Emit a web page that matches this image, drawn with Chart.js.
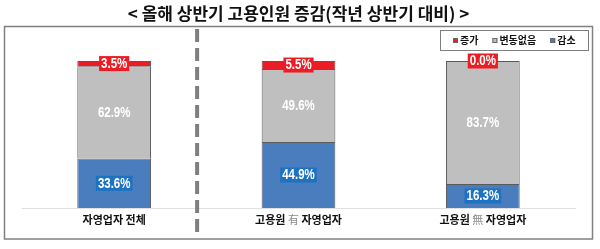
<!DOCTYPE html>
<html>
<head>
<meta charset="utf-8">
<script src="https://cdn.jsdelivr.net/npm/chart.js@4.4.1/dist/chart.umd.min.js"></script>
<style>
    html, body { margin: 0; padding: 0; background: #fff; }
</style>
</head>
<body>
<canvas id="chart" width="600" height="249"></canvas>
<script>
// data
const categories = ['자영업자 전체', '고용원 有 자영업자', '고용원 無 자영업자'];
const decrease = [33.6, 44.9, 16.3];
const noChange = [62.9, 49.6, 83.7];
const increase = [3.5, 5.5, 0.0];
const seriesNames = ['감소', '변동없음', '증가'];
const titleText = '< 올해 상반기 고용인원 증감(작년 상반기 대비) >';

const KR = '"Noto Sans CJK KR", "Noto Sans", sans-serif';
const NUM = '"Liberation Sans", Arial, sans-serif';

const RED = '#ec1c24';
const GRAY = '#bfbfbf';
const BLUE = '#4a7dbd';
const BLUE_TAG = '#1d72c2';

// outer frame
const framePlugin = {
    id: 'frame',
    beforeDraw(chart) {
        const ctx = chart.ctx;
        ctx.save();
        ctx.fillStyle = '#fff';
        ctx.fillRect(0, 0, chart.width, chart.height);
        ctx.strokeStyle = '#808080';
        ctx.lineWidth = 1.5;
        ctx.strokeRect(4.5, 26.5, 588, 212.5);
        ctx.restore();
    }
};

// dashed divider between first group and the rest
const dividerPlugin = {
    id: 'divider',
    beforeDatasetsDraw(chart) {
        const ctx = chart.ctx;
        const x = chart.scales.x.getPixelForValue(0.45);
        ctx.save();
        ctx.strokeStyle = '#7f7f7f';
        ctx.lineWidth = 4;
        ctx.setLineDash([13, 6]);
        ctx.beginPath();
        ctx.moveTo(x, 29);
        ctx.lineTo(x, 238);
        ctx.stroke();
        ctx.restore();
    }
};

// value labels on each segment (narrowed text)
const valueLabelPlugin = {
    id: 'valueLabels',
    afterDatasetsDraw(chart) {
        const ctx = chart.ctx;
        const squeeze = 0.82;
        ctx.save();
        ctx.font = 'bold 14px ' + NUM;
        ctx.textAlign = 'center';
        ctx.textBaseline = 'middle';
        chart.data.datasets.forEach((ds, i) => {
            const meta = chart.getDatasetMeta(i);
            meta.data.forEach((bar, j) => {
                const text = ds.data[j].toFixed(1) + '%';
                const cy = (bar.y + bar.base) / 2;
                const w = ctx.measureText(text).width * squeeze + 4;
                if (ds.tag) {
                    ctx.fillStyle = ds.tag;
                    ctx.fillRect(bar.x - w / 2, cy - 7.5, w, 15);
                }
                ctx.save();
                ctx.translate(bar.x, cy + 0.5);
                ctx.scale(squeeze, 1);
                ctx.fillStyle = '#fff';
                ctx.fillText(text, 0, 0);
                ctx.restore();
            });
        });
        ctx.restore();
    }
};

// category labels, with the 有/無 mark in light gray
const tickLabelPlugin = {
    id: 'tickLabels',
    afterDraw(chart) {
        const ctx = chart.ctx;
        const sx = chart.scales.x;
        const y = sx.top + 5 + 6.6;
        const boldFont = 'bold 11px ' + KR;
        const lightFont = '11px ' + KR;
        ctx.save();
        ctx.textBaseline = 'middle';
        ctx.textAlign = 'left';
        categories.forEach((label, i) => {
            const parts = label.split(/([有無])/).filter(p => p.length);
            let total = 0;
            parts.forEach(p => {
                ctx.font = /[有無]/.test(p) ? lightFont : boldFont;
                total += ctx.measureText(p).width;
            });
            let x = sx.getPixelForValue(i) - total / 2;
            parts.forEach(p => {
                const light = /[有無]/.test(p);
                ctx.font = light ? lightFont : boldFont;
                ctx.fillStyle = light ? '#8a8a8a' : '#111';
                ctx.fillText(p, x, y);
                x += ctx.measureText(p).width;
            });
        });
        ctx.restore();
    }
};

// boxed legend in the top right corner
const legendBoxPlugin = {
    id: 'legendBox',
    afterDraw(chart) {
        const ctx = chart.ctx;
        ctx.save();
        ctx.fillStyle = '#fff';
        ctx.fillRect(440, 30, 148, 20);
        ctx.strokeStyle = '#7f7f7f';
        ctx.lineWidth = 1;
        ctx.strokeRect(440.5, 30.5, 148, 20);
        ctx.font = 'bold 10px ' + KR;
        ctx.textBaseline = 'middle';
        ctx.textAlign = 'left';
        let x = 453;
        const items = chart.data.datasets.slice().reverse();
        items.forEach(ds => {
            ctx.fillStyle = ds.backgroundColor;
            ctx.fillRect(x, 38, 5, 5);
            ctx.strokeStyle = '#666';
            ctx.strokeRect(x + 0.5, 38.5, 4, 4);
            ctx.fillStyle = '#111';
            ctx.fillText(ds.label, x + 7, 40.5);
            x += 7 + ctx.measureText(ds.label).width + 14;
        });
        ctx.restore();
    }
};

new Chart(document.getElementById('chart'), {
    type: 'bar',
    data: {
        labels: categories,
        datasets: [
            {label: seriesNames[0], data: decrease, backgroundColor: BLUE, tag: BLUE_TAG},
            {label: seriesNames[1], data: noChange, backgroundColor: GRAY, tag: null},
            {label: seriesNames[2], data: increase, backgroundColor: RED, tag: RED}
        ]
    },
    options: {
        responsive: false,
        animation: false,
        layout: {padding: {left: 22, right: 25, top: 0, bottom: 17.8}},
        datasets: {
            bar: {
                barPercentage: 0.4,
                categoryPercentage: 1.0,
                borderColor: '#5a5a5a',
                borderWidth: 1
            }
        },
        plugins: {
            legend: {display: false},
            tooltip: {enabled: false},
            title: {
                display: true,
                text: titleText,
                color: '#111',
                font: {family: KR, size: 17, weight: 'bold'},
                padding: {top: 3, bottom: 37.6}
            }
        },
        scales: {
            x: {
                stacked: true,
                grid: {display: false, drawTicks: false},
                border: {display: true, color: '#e0e0e0', width: 1},
                ticks: {
                    // drawn by tickLabelPlugin, kept here for layout
                    color: 'rgba(0,0,0,0)',
                    padding: 5,
                    font: {family: KR, size: 11, weight: 'bold'}
                }
            },
            y: {
                stacked: true,
                display: false,
                min: 0,
                max: 100
            }
        }
    },
    plugins: [framePlugin, dividerPlugin, valueLabelPlugin, tickLabelPlugin, legendBoxPlugin]
});
</script>
</body>
</html>
